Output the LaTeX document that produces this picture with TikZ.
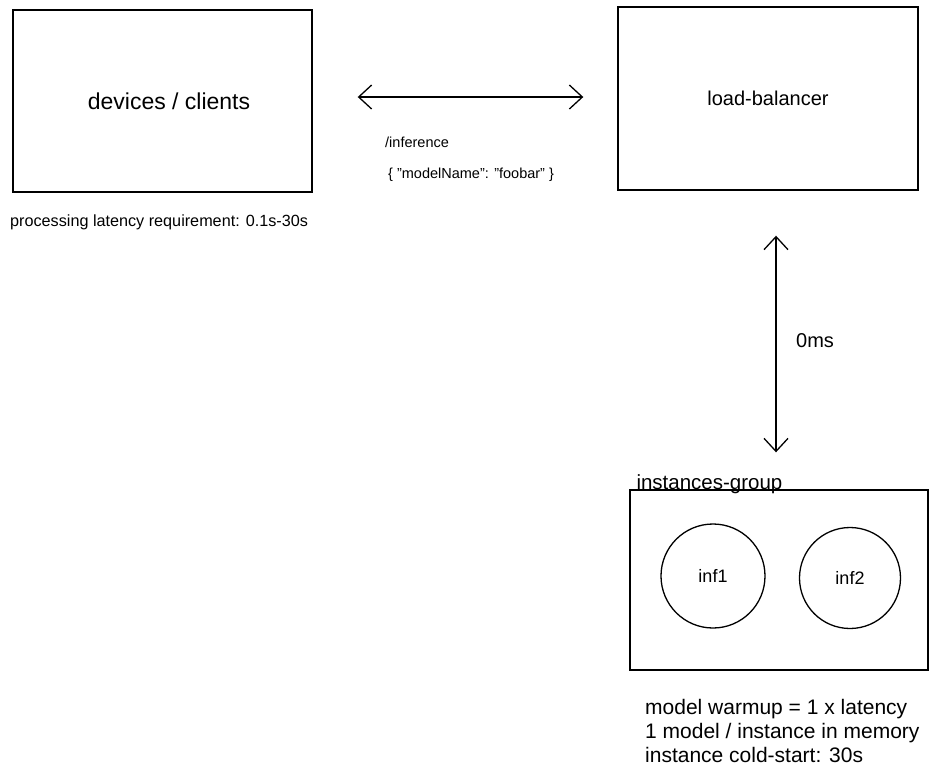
\documentclass[tikz,border=0pt]{standalone}
\usepackage{fontspec}
\setmainfont{Liberation Sans}
\usepackage{tikz}
\usetikzlibrary{arrows.meta, positioning, calc}

\begin{document}
\begin{tikzpicture}[
  x=1pt, y=-1pt,
  box/.style={rectangle, draw, line width=1.4pt, inner sep=0pt},
  inst/.style={circle, draw, line width=1.3pt, inner sep=0pt, font=\fontsize{18}{20}\selectfont},
  arrow/.style={{Straight Barb[length=13pt, width=24pt]}-{Straight Barb[length=13pt, width=24pt]}, line width=1.3pt},
  note/.style={inner sep=0pt, align=left, font=\fontsize{14.5}{16}\selectfont},
  big/.style={font=\fontsize{20}{24}\selectfont}
]
\useasboundingbox (0,0) rectangle (937,780);

%% Boxes
\node[box, minimum width=299pt, minimum height=182pt, font=\fontsize{23}{26}\selectfont, text depth=0pt, xshift=0pt] (dev) at (162.5, 101) {\hspace{13pt}devices / clients};
\node[box, minimum width=300pt, minimum height=183pt, big] (lb) at (768, 98.5) {load-balancer};
\node[box, minimum width=298pt, minimum height=180pt] (grp) at (779, 580) {};
\node[inner sep=0pt, anchor=base west, font=\fontsize{20.5}{24}\selectfont] (grplabel) at ($(grp.north west)+(7,0)$) {instances-group};

%% Instances
\node[inst, minimum size=104pt] (inf1) at (713, 576) {inf1};
\node[inst, minimum size=101pt] (inf2) at (850, 578) {inf2};

%% Arrows
\draw[arrow, shorten <=45pt, shorten >=34pt] (dev.east |- 0,97) -- (lb.west |- 0,97);
\draw[arrow, shorten <=45pt, shorten >=37pt] ([xshift=8pt]lb.south) -- ([xshift=-3pt]grp.north);

%% Labels
\node[note, anchor=west, font=\fontsize{16.2}{18}\selectfont] (latency) at (10, 222) {processing latency requirement: 0.1s-30s};
\node[note, anchor=west] (route) at (385, 142) {/inference};
\node[note, anchor=west] (body) at (388, 175) {\{ "modelName": "foobar" \}};
\node[big, inner sep=0pt, anchor=west] (delay) at (796, 341) {0ms};
\node[inner sep=0pt, anchor=north west, align=left, font=\fontsize{21}{24}\selectfont] (facts) at (645, 699)
  {model warmup = 1 x latency\\1 model / instance in memory\\instance cold-start: 30s};

\end{tikzpicture}
\end{document}
